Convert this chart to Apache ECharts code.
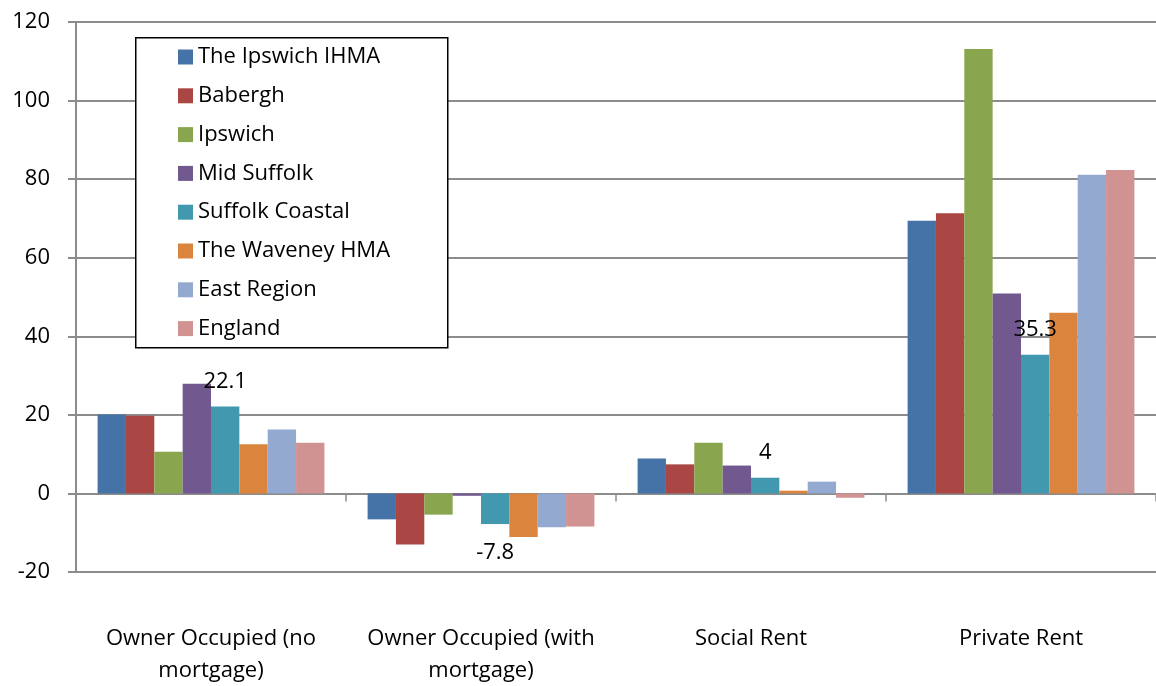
<!DOCTYPE html>
<html>
<head>
<meta charset="utf-8">
<script src="https://cdn.jsdelivr.net/npm/echarts@6/dist/echarts.min.js"></script>
<style>
html,body{margin:0;padding:0;background:#fff;}
#chart{width:1156px;height:686px;}
</style>
</head>
<body>
<div id="chart"></div>
<script>
const categories = ["Owner Occupied (no\nmortgage)", "Owner Occupied (with\nmortgage)", "Social Rent", "Private Rent"];
const seriesNames = ["The Ipswich IHMA", "Babergh", "Ipswich", "Mid Suffolk", "Suffolk Coastal", "The Waveney HMA", "East Region", "England"];
const ipswichIHMA    = [20.1, -6.6, 8.9, 69.4];
const babergh        = [19.8, -13.0, 7.4, 71.3];
const ipswich        = [10.6, -5.4, 12.9, 113.1];
const midSuffolk     = [27.9, -0.6, 7.1, 50.9];
const suffolkCoastal = [22.1, -7.8, 4, 35.3];
const waveneyHMA     = [12.5, -11.1, 0.7, 46.0];
const eastRegion     = [16.3, -8.6, 3.0, 81.1];
const england        = [12.9, -8.4, -1.1, 82.3];
const yTicks = [-20, 0, 20, 40, 60, 80, 100, 120];

const colors = ["#4572A7", "#AA4643", "#89A54E", "#71588F", "#4198AF", "#DB843D", "#93A9CF", "#D19392"];
const allValues = [ipswichIHMA, babergh, ipswich, midSuffolk, suffolkCoastal, waveneyHMA, eastRegion, england];
const FONT = "Open Sans";
const FS = 22;

const series = seriesNames.map((name, i) => {
  const s = {
    name: name,
    type: 'bar',
    xAxisIndex: 0,
    barGap: '0%',
    barCategoryGap: '16%',
    itemStyle: { color: colors[i] },
    data: allValues[i].slice()
  };
  if (name === "Suffolk Coastal") {
    s.data = allValues[i].map(v => ({
      value: v,
      label: { show: true, position: v < 0 ? 'bottom' : 'top', distance: v < 0 ? 18 : 14 }
    }));
    s.label = { color: '#000', fontSize: FS, fontFamily: FONT };
  }
  return s;
});

const chart = echarts.init(document.getElementById('chart'));
chart.setOption({
  animation: false,
  backgroundColor: '#fff',
  textStyle: { fontFamily: FONT },
  grid: { left: 76, right: 0, top: 22, bottom: 114, containLabel: false, outerBoundsMode: 'none' },
  graphic: [{
    type: 'rect',
    left: 135, top: 37, z: 3,
    shape: { width: 312, height: 310 },
    style: { fill: '#fff', stroke: '#000', lineWidth: 1.5 }
  }],
  legend: {
    orient: 'vertical',
    left: 178, top: 46,
    z: 5,
    padding: 0,
    itemWidth: 15, itemHeight: 15, itemGap: 16.8,
    icon: 'rect',
    textStyle: { fontSize: FS, lineHeight: 20, color: '#000', fontFamily: FONT },
    data: seriesNames
  },
  xAxis: [{
    type: 'category',
    data: categories,
    axisLine: { onZero: true, lineStyle: { color: '#8c8c8c', width: 2 } },
    axisTick: { show: true, length: 8, lineStyle: { color: '#8c8c8c', width: 1.5 } },
    axisLabel: { show: false }
  }, {
    type: 'category',
    data: categories,
    position: 'bottom',
    axisLine: { show: false, onZero: false },
    axisTick: { show: false },
    axisLabel: { margin: 51, fontSize: FS, lineHeight: 32, color: '#000', fontFamily: FONT, interval: 0 }
  }],
  yAxis: {
    type: 'value',
    min: yTicks[0], max: yTicks[yTicks.length - 1], interval: 20,
    axisLine: { show: true, lineStyle: { color: '#8c8c8c', width: 2 } },
    axisTick: { show: true, length: 8, lineStyle: { color: '#8c8c8c', width: 2 } },
    axisLabel: { margin: 26, fontSize: FS, color: '#000', fontFamily: FONT },
    splitLine: { lineStyle: { color: '#8c8c8c', width: 2 } }
  },
  series: series
});
</script>
</body>
</html>
